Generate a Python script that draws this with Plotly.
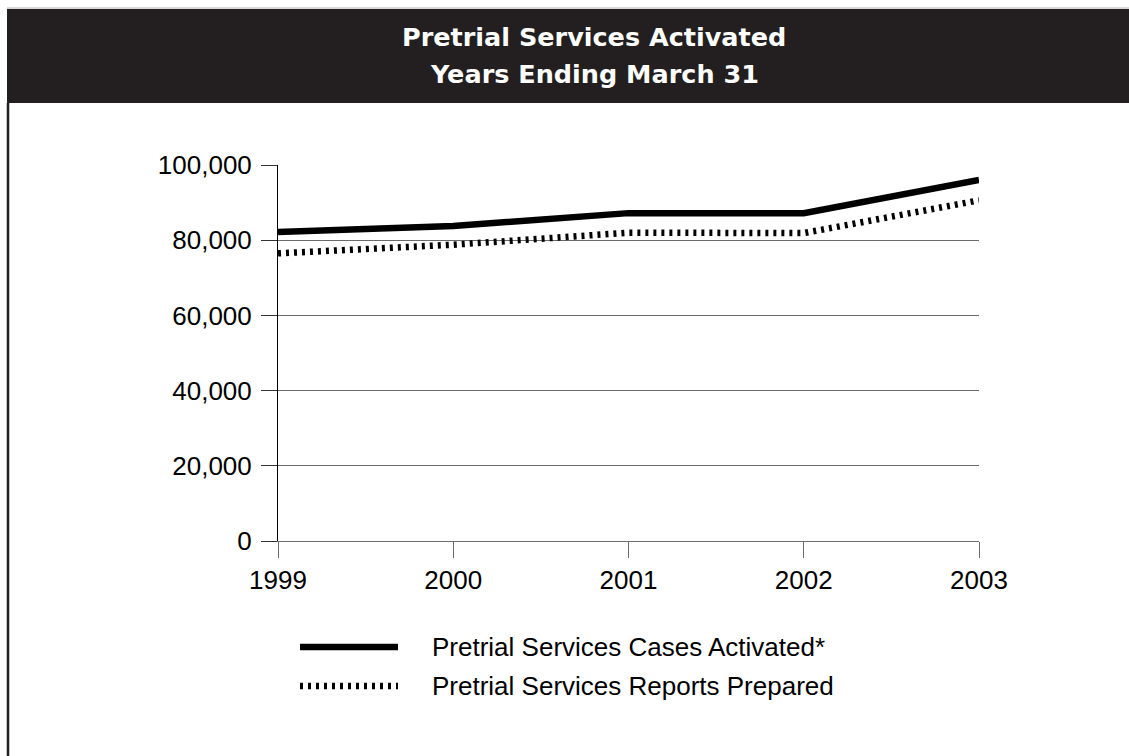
import plotly.graph_objects as go

# Fiscal years ending March 31
years = [1999, 2000, 2001, 2002, 2003]
cases_activated = [82200, 83800, 87200, 87200, 96000]
reports_prepared = [76500, 78800, 82000, 81900, 90600]

series_names = ["Pretrial Services Cases Activated*", "Pretrial Services Reports Prepared"]
y_ticks = [0, 20000, 40000, 60000, 80000, 100000]

W, H = 1129, 756
L, R, T, B = 278, 979, 165, 541   # plot area in pixels
INK = "#231f20"
GRID = "#6b6b6b"
FONT = "Liberation Sans, Arial, Helvetica, sans-serif"


def px(x):
    return (x - L) / (R - L)


def py(y):
    return (B - y) / (B - T)


fig = go.Figure()
fig.add_trace(go.Scatter(
    x=years, y=cases_activated, name=series_names[0], mode="lines",
    line=dict(color="black", width=6.5), showlegend=False,
))
fig.add_trace(go.Scatter(
    x=years, y=reports_prepared, name=series_names[1], mode="lines",
    line=dict(color="black", width=6.5, dash="3px,5px"), showlegend=False,
))

shapes = [
    # header band
    dict(type="rect", xref="paper", yref="paper", x0=px(7), x1=px(1130), y0=py(103), y1=py(9),
         fillcolor=INK, line=dict(width=0), layer="below"),
    dict(type="line", xref="paper", yref="paper", x0=px(7), x1=px(1130), y0=py(8), y1=py(8),
         line=dict(color="#b0b0b0", width=1)),
    # left border
    dict(type="line", xref="paper", yref="paper", x0=px(8), x1=px(8), y0=py(103), y1=py(760),
         line=dict(color=INK, width=2.5)),
    # legend samples
    dict(type="line", xref="paper", yref="paper", x0=px(300), x1=px(398), y0=py(647), y1=py(647),
         line=dict(color="black", width=6.5)),
    dict(type="line", xref="paper", yref="paper", x0=px(300), x1=px(398), y0=py(686), y1=py(686),
         line=dict(color="black", width=6.5, dash="3px,5px")),
]

annotations = [
    dict(text="<b>Pretrial Services Activated</b>", xref="paper", yref="paper",
         x=px(594), y=py(37), xanchor="center", yanchor="middle", showarrow=False,
         font=dict(family="DejaVu Sans, sans-serif", size=25.5, color="white")),
    dict(text="<b>Years Ending March 31</b>", xref="paper", yref="paper",
         x=px(594), y=py(74), xanchor="center", yanchor="middle", showarrow=False,
         font=dict(family="DejaVu Sans, sans-serif", size=25.5, color="white")),
    dict(text=series_names[0], xref="paper", yref="paper", x=px(430), y=py(647),
         xanchor="left", yanchor="middle", showarrow=False,
         font=dict(family=FONT, size=26, color="black")),
    dict(text=series_names[1], xref="paper", yref="paper", x=px(430), y=py(686),
         xanchor="left", yanchor="middle", showarrow=False,
         font=dict(family=FONT, size=26, color="black")),
]

fig.update_layout(
    width=W, height=H,
    margin=dict(l=L, r=W - R, t=T, b=H - B, pad=0),
    paper_bgcolor="white", plot_bgcolor="white",
    shapes=shapes, annotations=annotations,
    showlegend=False,
    font=dict(family=FONT, size=26, color="black"),
)
fig.update_xaxes(
    range=[1999, 2003], tickvals=years, ticktext=[str(y) for y in years],
    showgrid=False, zeroline=False, showline=True, linecolor=GRID, linewidth=1,
    ticks="outside", ticklen=16, tickcolor=GRID, tickwidth=1,
    tickfont=dict(family=FONT, size=26, color="black"),
)
fig.update_yaxes(
    range=[0, 100000], tickvals=y_ticks, tickformat=",",
    showgrid=True, gridcolor=GRID, gridwidth=1, zeroline=False,
    showline=True, linecolor="black", linewidth=1,
    ticks="outside", ticklen=16, tickcolor="#333333", tickwidth=1,
    ticklabelstandoff=4,
    tickfont=dict(family=FONT, size=26, color="black"),
)

fig.write_html("out.html")
